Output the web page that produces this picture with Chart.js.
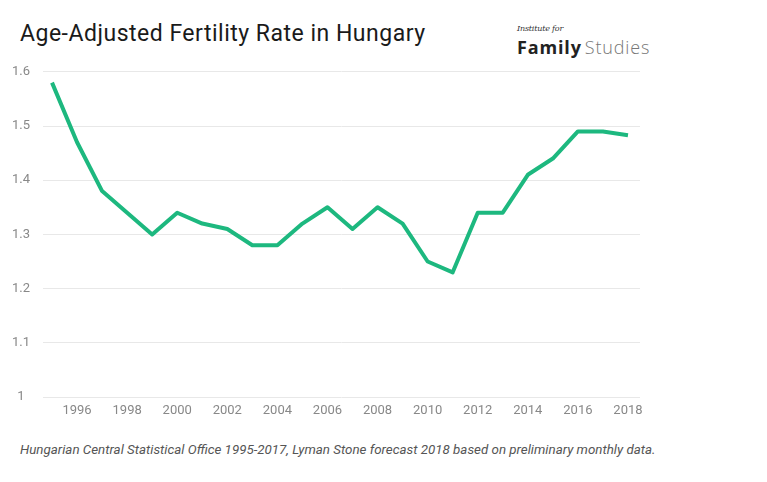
<!DOCTYPE html>
<html>
<head>
<meta charset="utf-8">
<script src="https://cdn.jsdelivr.net/npm/chart.js@4"></script>
<style>
  body { margin: 0; background: #fff; width: 767px; height: 482px; position: relative; overflow: hidden; font-family: Roboto, sans-serif; }
  #title { position: absolute; left: 20px; top: 20px; font-size: 23px; color: #1a1a1a; letter-spacing: 0.5px; }
  #inst { position: absolute; left: 517px; top: 24px; font-family: "DejaVu Serif", serif; font-style: italic; font-size: 8px; color: #333; letter-spacing: -0.2px; }
  #fam { position: absolute; left: 517px; top: 37px; font-family: "Open Sans", sans-serif; font-size: 18px; line-height: 20px; color: #222; font-weight: 700; letter-spacing: 0.85px; white-space: nowrap; }
  #fam span { font-weight: 300; color: #777; margin-left: 3px; }
  #wrap { position: absolute; left: 0; top: 51px; width: 660px; height: 376px; }
  #note { position: absolute; left: 20px; top: 442px; font-size: 13.35px; font-style: italic; color: #555; }
</style>
</head>
<body>
<div id="title">Age-Adjusted Fertility Rate in Hungary</div>
<div id="inst">Institute for</div>
<div id="fam">Family<span>Studies</span></div>
<div id="wrap"><canvas id="chart"></canvas></div>
<div id="note">Hungarian Central Statistical Office 1995-2017, Lyman Stone forecast 2018 based on preliminary monthly data.</div>
<script>
const years = [1995, 1996, 1997, 1998, 1999, 2000, 2001, 2002, 2003, 2004, 2005, 2006,
               2007, 2008, 2009, 2010, 2011, 2012, 2013, 2014, 2015, 2016, 2017, 2018];
const rates = [1.58, 1.47, 1.38, 1.34, 1.30, 1.34, 1.32, 1.31, 1.28, 1.28, 1.32, 1.35,
               1.31, 1.35, 1.32, 1.25, 1.23, 1.34, 1.34, 1.41, 1.44, 1.49, 1.49, 1.483];
const xTicks = [1996, 1998, 2000, 2002, 2004, 2006, 2008, 2010, 2012, 2014, 2016, 2018];

const points = years.map((y, i) => ({ x: y, y: rates[i] }));

new Chart(document.getElementById('chart'), {
    type: 'line',
    data: {
        datasets: [{
            data: points,
            borderColor: '#1db87f',
            borderWidth: 4,
            pointRadius: 0,
            tension: 0,
            borderJoinStyle: 'round',
            borderCapStyle: 'butt'
        }]
    },
    options: {
        responsive: true,
        maintainAspectRatio: false,
        animation: false,
        layout: { padding: { top: 12, right: 20, left: 0, bottom: 0 } },
        plugins: { legend: { display: false }, tooltip: { enabled: false } },
        scales: {
            x: {
                type: 'linear',
                min: 1994.64,
                max: 2018.48,
                afterBuildTicks: s => { s.ticks = xTicks.map(v => ({ value: v })); },
                afterFit: s => { s.height = 30; },
                grid: { display: false },
                border: { display: false },
                ticks: {
                    color: '#888',
                    font: { family: 'Roboto', size: 13 },
                    padding: -2,
                    maxRotation: 0,
                    autoSkip: false,
                    callback: v => String(v)
                }
            },
            y: {
                min: 1,
                max: 1.6,
                afterFit: s => { s.width = 43; },
                grid: { color: '#e8e8e8', lineWidth: 1, drawTicks: false },
                border: { display: false },
                ticks: {
                    stepSize: 0.1,
                    color: '#888',
                    crossAlign: 'center',
                    padding: 13,
                    font: { family: 'Roboto', size: 13 },
                    callback: v => String(+v.toFixed(1))
                }
            }
        }
    }
});
</script>
</body>
</html>
